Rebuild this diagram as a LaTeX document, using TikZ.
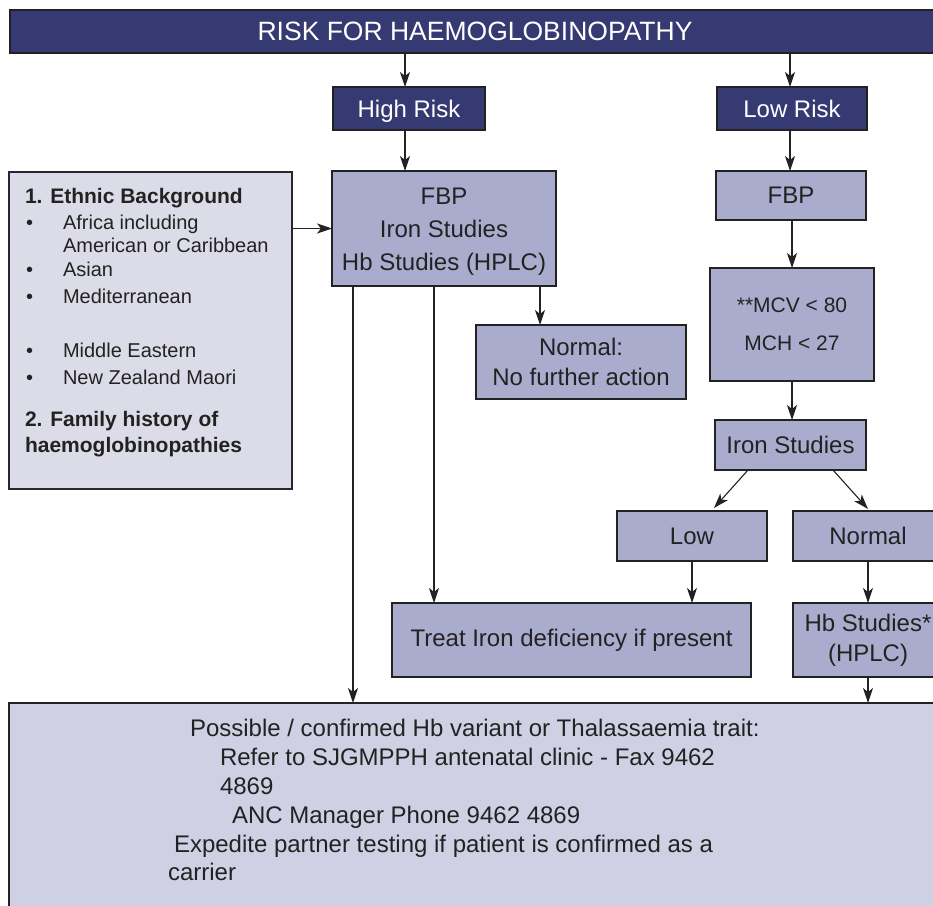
\documentclass[tikz,border=0pt]{standalone}
\usepackage{fontspec}
\setmainfont{Liberation Sans}
\usetikzlibrary{arrows.meta}
\definecolor{navy}{HTML}{363A72}
\definecolor{boxfill}{HTML}{AAACCD}
\definecolor{panelfill}{HTML}{DCDCE9}
\definecolor{notefill}{HTML}{D0D0E4}
\definecolor{ink}{HTML}{222222}
\begin{document}
\begin{tikzpicture}[x=1pt,y=-1pt,
  every node/.style={inner sep=0pt, outer sep=0pt},
  box/.style={draw=ink, line width=1.3pt, fill=boxfill, text=ink, align=center,
    font=\fontsize{24}{30}\selectfont},
  headbox/.style={draw=ink, line width=1.3pt, fill=navy, text=white, align=center,
    font=\fontsize{24}{30}\selectfont},
  link/.style={draw=ink, line width=1.1pt},
  arr/.style={link, -{Stealth[length=15pt,width=10pt,inset=4pt]}},
  paneltxt/.style={anchor=base west, text=ink, font=\fontsize{20}{24}\selectfont},
  panelhead/.style={anchor=base west, text=ink, font=\fontsize{21}{24}\selectfont\bfseries},
  notetxt/.style={anchor=base west, text=ink, font=\fontsize{24}{29}\selectfont},
]
\useasboundingbox (0,0) rectangle (933,905);
\clip (0,0) rectangle (933,905);

% title bar
\node[headbox, font=\fontsize{26.5}{30}\selectfont, minimum width=930pt, minimum height=43pt]
  (hdr) at (475,31.5) {RISK FOR HAEMOGLOBINOPATHY};

% risk groups
\node[headbox, minimum width=152pt, minimum height=43pt] (hi) at (409,108.5) {\rule{0pt}{23pt}High Risk};
\node[headbox, minimum width=150pt, minimum height=43pt] (lo) at (792,108.5) {Low Risk};

% high risk branch
\node[box, font=\fontsize{24}{33}\selectfont, minimum width=224pt, minimum height=115pt]
  (fbph) at (444,228.5) {\rule{0pt}{22pt}FBP\\Iron Studies\\Hb Studies (HPLC)};
\node[box, minimum width=210pt, minimum height=74pt] (norm) at (581,362) {Normal:\\No further action};

% risk factor panel
\node[draw=ink!80!navy, line width=1.1pt, fill=panelfill, minimum width=283pt, minimum height=317pt]
  (panel) at (150.5,330.5) {};
\node[panelhead] (p1) at (25,203) {1. Ethnic Background};
\foreach \yy/\lbl [count=\i] in {229/Africa including, 276/Asian, 303/Mediterranean, 357/Middle Eastern, 384/New Zealand Maori}{
  \node[paneltxt] (b\i) at (26,\yy) {•};
  \node[paneltxt] (t\i) at (63,\yy) {\lbl};
}
\node[paneltxt] (t0) at (63,252) {American or Caribbean};
\node[panelhead] (p2) at (25,426) {2. Family history of};
\node[panelhead] (p3) at (25,452) {haemoglobinopathies};

% low risk branch
\node[box, minimum width=150pt, minimum height=49pt] (fbpl) at (791,195.5) {FBP};
\node[box, font=\fontsize{21}{38}\selectfont, minimum width=164pt, minimum height=113pt]
  (mcv) at (792,324.5) {**MCV < 80\\MCH < 27};
\node[box, minimum width=151pt, minimum height=50pt] (iron) at (790.5,445) {Iron Studies};
\node[box, minimum width=150pt, minimum height=50pt] (low) at (692,536) {Low};
\node[box, minimum width=150pt, minimum height=50pt] (nrm) at (868,536) {Normal};
\node[box, minimum width=359pt, minimum height=74pt] (treat) at (571.5,640) {Treat Iron deficiency if present};
\node[box, minimum width=150pt, minimum height=74pt] (hb) at (868,640) {Hb Studies*\\(HPLC)};

% referral note
\node[draw=ink, line width=1.3pt, fill=notefill, minimum width=942pt, minimum height=218pt]
  (note) at (480,812) {};
\node[notetxt] (n1) at (190,736) {Possible / confirmed Hb variant or Thalassaemia trait:};
\node[notetxt] (n2) at (220,765) {Refer to SJGMPPH antenatal clinic - Fax 9462};
\node[notetxt] (n3) at (220,794) {4869};
\node[notetxt] (n4) at (232,823) {ANC Manager Phone 9462 4869};
\node[notetxt] (n5) at (174,852) {Expedite partner testing if patient is confirmed as a};
\node[notetxt] (n6) at (168,880) {carrier};

% connectors
\draw[arr] ([xshift=-4pt]hi.north |- hdr.south) -- ([xshift=-4pt]hi.north);
\draw[arr] ([xshift=-2pt]lo.north |- hdr.south) -- ([xshift=-2pt]lo.north);
\draw[arr] ([xshift=-4pt]hi.south) -- ([xshift=-4pt]hi.south |- fbph.north);
\draw[arr] (panel.east |- fbph.west) -- (fbph.west);
\draw[arr] ([xshift=96pt]fbph.south) -- ([xshift=96pt]fbph.south |- norm.north);
\draw[arr] ([xshift=-91pt]fbph.south) -- ([xshift=-91pt]fbph.south |- note.north);
\draw[arr] ([xshift=-10pt]fbph.south) -- ([xshift=-10pt]fbph.south |- treat.north);
\draw[arr] ([xshift=-2pt]lo.south) -- ([xshift=-2pt]lo.south |- fbpl.north);
\draw[arr] (fbpl.south -| mcv.north) -- (mcv.north);
\draw[arr] (mcv.south) -- (mcv.south |- iron.north);
\draw[arr] ([xshift=33pt]iron.south west) -- ([xshift=22pt,yshift=3pt]low.north);
\draw[arr] ([xshift=-33pt]iron.south east) -- ([yshift=2pt]nrm.north);
\draw[arr] (low.south) -- (low.south |- treat.north);
\draw[arr] (nrm.south) -- (hb.north);
\draw[arr] (hb.south) -- (hb.south |- note.north);
\end{tikzpicture}
\end{document}
